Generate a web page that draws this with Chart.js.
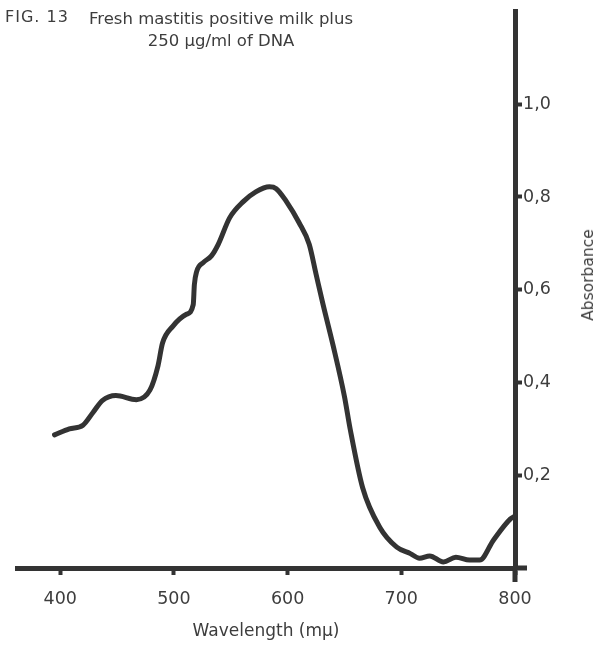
<!DOCTYPE html>
<html>
<head>
<meta charset="utf-8">
<script src="https://cdn.jsdelivr.net/npm/chart.js@4/dist/chart.umd.min.js"></script>
<style>
    body { margin: 0; background: #fff; }
    #wrap { position: relative; width: 597px; height: 645px; }
    .txt { position: absolute; font-family: 'DejaVu Sans', sans-serif; color: #3d3d3d; white-space: nowrap; }
    #fig { left: 5px; top: 7px; font-size: 16px; letter-spacing: 1px; }
    #title { left: 0; width: 442px; top: 8px; font-size: 16.5px; text-align: center; line-height: 22px; }
    #ytitle { left: 588px; top: 275px; font-size: 15.5px; transform: translate(-50%, -50%) rotate(-90deg); }
</style>
</head>
<body>
<div id="wrap">
    <canvas id="chart" width="597" height="645"></canvas>
    <div class="txt" id="fig">FIG. 13</div>
    <div class="txt" id="title">Fresh mastitis positive milk plus<br>250 &micro;g/ml of DNA</div>
    <div class="txt" id="ytitle">Absorbance</div>
</div>
<script>
// Data
const wavelength = [395, 408, 420, 429, 437, 449, 467, 479, 486, 490, 499, 511, 517, 518, 520, 526, 533, 539, 549, 561, 572, 584, 590, 599, 610, 619, 625, 631, 640, 650, 655, 666, 681, 696, 708, 716, 725, 737, 748, 760, 769, 781, 796, 800];
const absorbance = [0.287, 0.300, 0.308, 0.336, 0.361, 0.372, 0.363, 0.384, 0.436, 0.485, 0.521, 0.547, 0.568, 0.611, 0.639, 0.659, 0.673, 0.698, 0.755, 0.790, 0.811, 0.822, 0.818, 0.790, 0.745, 0.698, 0.634, 0.570, 0.480, 0.370, 0.300, 0.173, 0.088, 0.045, 0.031, 0.021, 0.026, 0.013, 0.023, 0.017, 0.017, 0.060, 0.106, 0.112];
const xTicks = [400, 500, 600, 700, 800];
const yTicks = [0.2, 0.4, 0.6, 0.8, 1.0];

const ink = '#333';
const textInk = '#3d3d3d';
const tickFont = { family: 'DejaVu Sans', size: 17.5 };

// axes run a little past their crossing point, as in the drawing
const axisOverhang = {
    id: 'axisOverhang',
    afterDraw(chart) {
        const { ctx, scales: { x, y } } = chart;
        const x0 = x.getPixelForValue(800);
        const y0 = y.getPixelForValue(0);
        ctx.save();
        ctx.strokeStyle = ink;
        ctx.lineWidth = 5;
        ctx.beginPath();
        ctx.moveTo(x0, y0);
        ctx.lineTo(x0 + 12, y0);
        ctx.moveTo(x0, y0);
        ctx.lineTo(x0, y0 + 14);
        ctx.stroke();
        ctx.restore();
    }
};

new Chart(document.getElementById('chart'), {
    type: 'line',
    data: {
        datasets: [{
            data: wavelength.map((w, i) => ({ x: w, y: absorbance[i] })),
            borderColor: ink,
            borderWidth: 5,
            pointRadius: 0,
            cubicInterpolationMode: 'monotone',
            borderCapStyle: 'round',
            borderJoinStyle: 'round'
        }]
    },
    options: {
        responsive: false,
        animation: false,
        layout: { padding: { left: 17, top: 5, right: 0, bottom: 0 } },
        plugins: { legend: { display: false }, tooltip: { enabled: false } },
        scales: {
            x: {
                type: 'linear',
                min: 362,
                max: 800,
                afterBuildTicks: axis => { axis.ticks = xTicks.map(v => ({ value: v })); },
                afterFit: axis => { axis.height = 77; },
                border: { display: true, width: 5, color: ink },
                grid: { drawOnChartArea: false, drawTicks: true, tickLength: 7, tickWidth: 4, tickColor: ink },
                ticks: { color: textInk, font: tickFont, padding: 14, maxRotation: 0 },
                title: { display: true, text: 'Wavelength (m\u03bc)', color: textInk, font: { family: 'DejaVu Sans', size: 17 }, padding: { top: 0, bottom: 3 } }
            },
            y: {
                position: 'right',
                min: 0,
                max: 1.2,
                afterBuildTicks: axis => { axis.ticks = yTicks.map(v => ({ value: v })); },
                afterFit: axis => { axis.width = 82; },
                border: { display: true, width: 5, color: ink },
                grid: { drawOnChartArea: false, drawTicks: true, tickLength: 7, tickWidth: 4, tickColor: ink },
                ticks: {
                    color: textInk,
                    font: tickFont,
                    padding: 1,
                    callback: v => v.toFixed(1).replace('.', ',')
                }
            }
        }
    },
    plugins: [axisOverhang]
});
</script>
</body>
</html>
